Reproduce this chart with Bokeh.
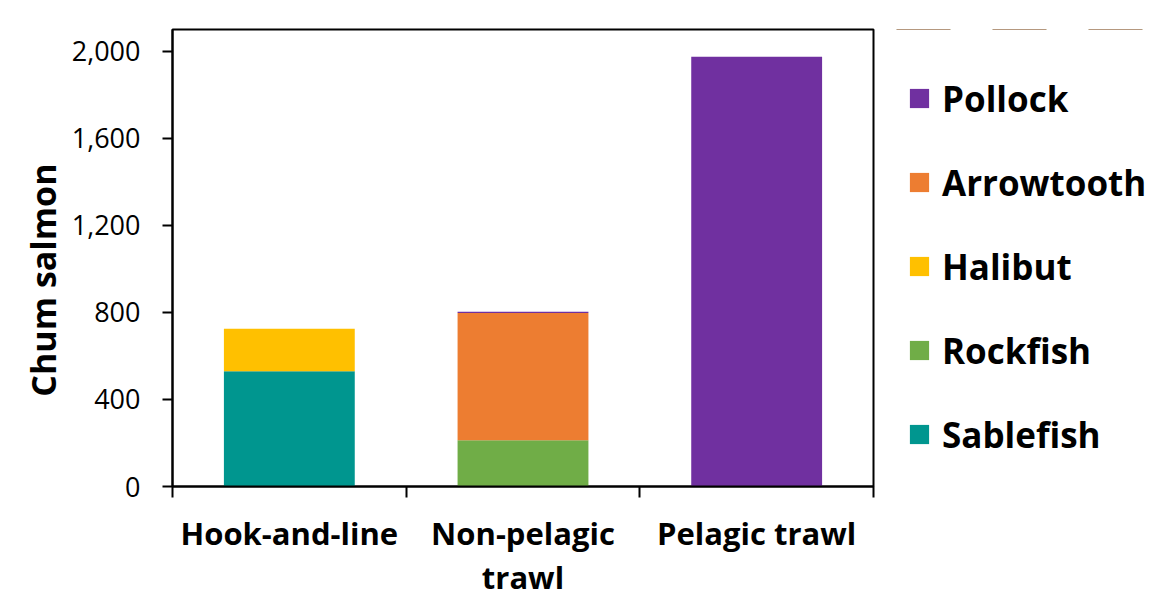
from bokeh.plotting import figure
from bokeh.layouts import row
from bokeh.models import (ColumnDataSource, Range1d, LinearAxis, Title,
                          FixedTicker, NumeralTickFormatter, Legend, LegendItem)
from bokeh.embed import file_html
from bokeh.resources import INLINE

# ---- data ----
gear = ["Hook-and-line", "Non-pelagic\ntrawl", "Pelagic trawl"]
sablefish = [530, 0, 0]
rockfish = [0, 212, 0]
halibut = [195, 0, 0]
arrowtooth = [0, 585, 0]
pollock = [0, 6, 1975]
species = ["Sablefish", "Rockfish", "Halibut", "Arrowtooth", "Pollock"]
colors = ["#00968F", "#70AD47", "#FFC000", "#ED7D31", "#7030A0"]
y_ticks = [0, 400, 800, 1200, 1600, 2000]
y_title = "Chum salmon"

# category slots on a numeric axis: slot i spans [i, i+1], centre i+0.5
centres = [i + 0.5 for i in range(len(gear))]
bounds = list(range(len(gear) + 1))

source = ColumnDataSource(dict(x=centres, Sablefish=sablefish, Rockfish=rockfish,
                               Halibut=halibut, Arrowtooth=arrowtooth, Pollock=pollock))

FONT = "Open Sans"

# ---- main chart ----
p = figure(x_range=Range1d(0, len(gear)), y_range=Range1d(0, 2100),
           width=875, height=604, output_backend="svg", toolbar_location=None,
           x_axis_location=None,
           min_border_left=172, min_border_right=2, min_border_top=29, min_border_bottom=118)
p.background_fill_color = "white"
p.border_fill_color = "white"
p.outline_line_color = "black"
p.outline_line_width = 2
p.xgrid.visible = False
p.ygrid.visible = False

p.vbar_stack(species, x="x", width=0.56, source=source, color=colors, line_color=None)

# y axis
ya = p.yaxis[0]
ya.ticker = FixedTicker(ticks=y_ticks)
ya.formatter = NumeralTickFormatter(format="0,0")
ya.major_label_text_font = FONT
ya.major_label_text_font_size = "27px"
ya.major_label_text_color = "black"
ya.major_label_standoff = 22
ya.major_tick_out = 10
ya.major_tick_in = 0
ya.major_tick_line_width = 2
ya.major_tick_line_color = "black"
ya.minor_tick_line_color = None
ya.axis_line_width = 2
ya.axis_line_color = "black"

# y title; trailing no-break spaces move the visible words a little below the frame centre
p.add_layout(Title(text=y_title + "\u00a0" * 5, align="center", standoff=6,
                   text_font=FONT, text_font_style="bold", text_font_size="34px",
                   text_color="black"), "left")

# x axis: labels at slot centres, tick marks at slot boundaries
xa = LinearAxis(ticker=FixedTicker(ticks=centres, minor_ticks=bounds),
                major_label_overrides={c: g for c, g in zip(centres, gear)},
                axis_line_width=2, axis_line_color="black",
                major_tick_line_color=None, major_tick_out=0, major_tick_in=0,
                minor_tick_out=11, minor_tick_in=0, minor_tick_line_width=2,
                minor_tick_line_color="black",
                major_label_text_font=FONT, major_label_text_font_style="bold",
                major_label_text_font_size="31px", major_label_text_color="black",
                major_label_text_line_height=1.07, major_label_standoff=14)
p.add_layout(xa, "below")

# ---- legend panel (a second, axis-less figure beside the chart) ----
q = figure(x_range=Range1d(0, len(gear)), y_range=Range1d(-2, -1),
           width=288, height=604, output_backend="svg", toolbar_location=None,
           x_axis_location=None, y_axis_location=None,
           min_border_left=0, min_border_right=0, min_border_top=0, min_border_bottom=0)
q.background_fill_color = "white"
q.border_fill_color = "white"
q.outline_line_color = None
q.xgrid.visible = False
q.ygrid.visible = False
# same stacked bars, kept out of view, only to feed the legend
legend_renderers = q.vbar_stack(species, x="x", width=0.56, source=source, color=colors,
                                line_color=None)

items = [LegendItem(label=s, renderers=[r]) for s, r in zip(species, legend_renderers)][::-1]
legend = Legend(items=items, location=(32, 28), orientation="vertical",
                glyph_width=24, glyph_height=24, label_height=48,
                label_text_font=FONT, label_text_font_style="bold",
                label_text_font_size="35px", label_text_color="black",
                label_standoff=11, spacing=36, padding=0, margin=0,
                background_fill_alpha=0, border_line_color=None)
q.add_layout(legend, "center")

layout = row(p, q, spacing=0)

open("out.html", "w").write(file_html(layout, INLINE))
